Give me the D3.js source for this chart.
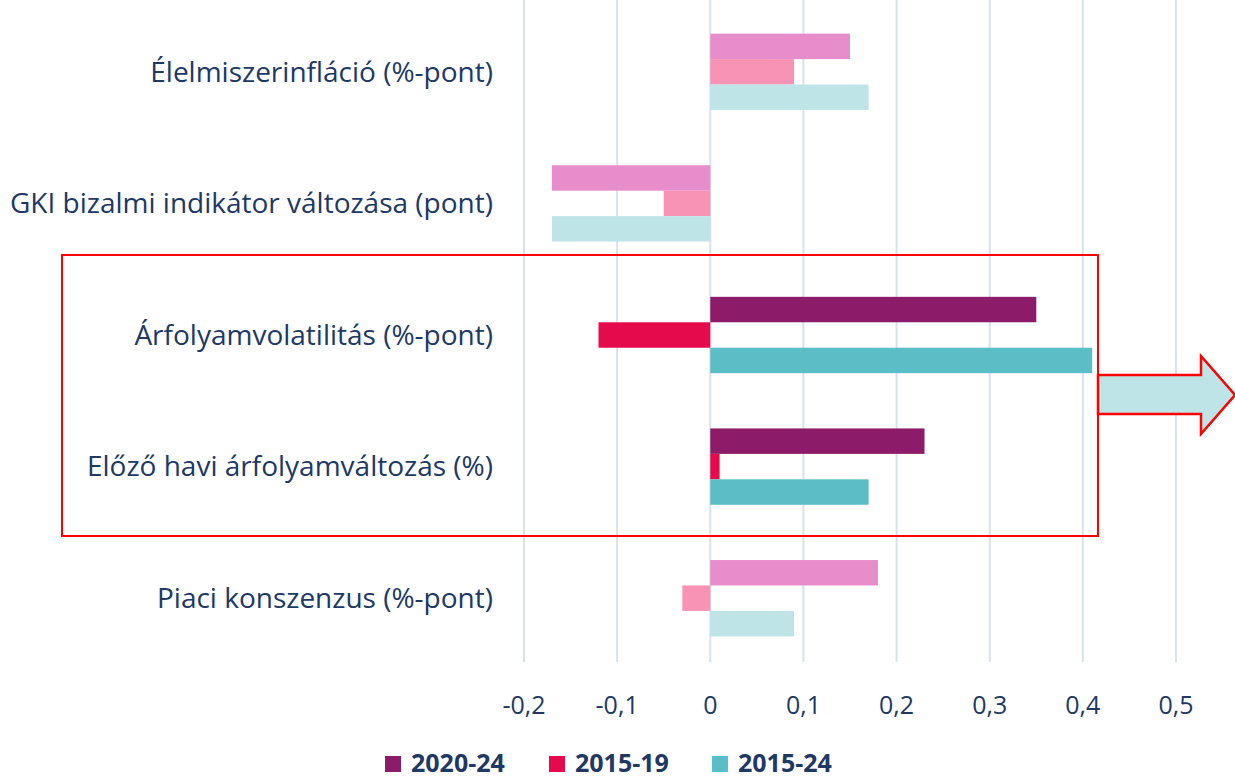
<!DOCTYPE html>
<html>
<head>
<meta charset="utf-8">
<script src="https://cdn.jsdelivr.net/npm/d3@7"></script>
<style>
  body { margin: 0; background: #fff; }
  text { font-family: "Open Sans", sans-serif; fill: #203864; }
</style>
</head>
<body>
<div id="root"></div>
<script>
// adatok
var categories = [
  "Élelmiszerinfláció (%-pont)",
  "GKI bizalmi indikátor változása (pont)",
  "Árfolyamvolatilitás (%-pont)",
  "Előző havi árfolyamváltozás (%)",
  "Piaci konszenzus (%-pont)"
];
var seriesNames = ["2020-24", "2015-19", "2015-24"];
var v2020_24 = [0.15, -0.17, 0.35, 0.23, 0.18];
var v2015_19 = [0.09, -0.05, -0.12, 0.01, -0.03];
var v2015_24 = [0.17, -0.17, 0.41, 0.17, 0.09];
var highlighted = [false, false, true, true, false];
var tickValues = [-0.2, -0.1, 0, 0.1, 0.2, 0.3, 0.4, 0.5];

var colors = ["#8C1B6A", "#E50A4B", "#5BBDC5"];
var fadedColors = ["#E88DCB", "#F993B5", "#BEE4E7"];

var width = 1235, height = 779;

var svg = d3.select("#root")
  .append("svg")
  .attr("width", width)
  .attr("height", height);

var x = d3.scaleLinear()
  .domain([-0.2, 0.5])
  .range([524, 1176]);

var y = d3.scaleBand()
  .domain(categories)
  .range([6, 664])
  .paddingInner(0.42)
  .paddingOuter(0.21);

var sub = d3.scaleBand()
  .domain(seriesNames)
  .range([0, y.bandwidth()]);

var locale = d3.formatLocale({ decimal: ",", thousands: " ", grouping: [3], currency: ["", " Ft"], minus: "-" });
var fmt = function (d) { return d === 0 ? "0" : locale.format(".1f")(d); };

// rácsvonalak
svg.append("g")
  .selectAll("line")
  .data(tickValues)
  .enter()
  .append("line")
  .attr("x1", function (d) { return x(d); })
  .attr("x2", function (d) { return x(d); })
  .attr("y1", 0)
  .attr("y2", 662)
  .style("stroke", "#D9E0F1")
  .style("stroke-width", 2);

var rows = categories.map(function (c, i) {
  return { cat: c, vals: [v2020_24[i], v2015_19[i], v2015_24[i]], hl: highlighted[i] };
});

var groups = svg.append("g")
  .selectAll("g")
  .data(rows)
  .enter()
  .append("g")
  .attr("transform", function (d) { return "translate(0," + y(d.cat) + ")"; });

groups.selectAll("rect")
  .data(function (d) {
    return d.vals.map(function (v, j) { return { v: v, s: seriesNames[j], j: j, hl: d.hl }; });
  })
  .enter()
  .append("rect")
  .attr("x", function (d) { return x(Math.min(0, d.v)); })
  .attr("y", function (d) { return sub(d.s); })
  .attr("width", function (d) { return Math.abs(x(d.v) - x(0)); })
  .attr("height", sub.bandwidth())
  .style("fill", function (d) { return d.hl ? colors[d.j] : fadedColors[d.j]; });

// kategória feliratok
svg.append("g")
  .selectAll("text")
  .data(categories)
  .enter()
  .append("text")
  .attr("x", 493)
  .attr("y", function (d) { return y(d) + y.bandwidth() / 2; })
  .attr("dy", "0.35em")
  .attr("text-anchor", "end")
  .style("font-size", "28px")
  .text(function (d) { return d; });

// tengely feliratok
svg.append("g")
  .selectAll("text")
  .data(tickValues)
  .enter()
  .append("text")
  .attr("x", function (d) { return x(d); })
  .attr("y", 714)
  .attr("text-anchor", "middle")
  .style("font-size", "25px")
  .text(fmt);

// kiemelő keret és nyíl
svg.append("rect")
  .attr("x", 62)
  .attr("y", 255)
  .attr("width", 1036)
  .attr("height", 281)
  .style("fill", "none")
  .style("stroke", "#FF0000")
  .style("stroke-width", 2);

var arrowPts = [[1098, 375], [1201, 375], [1201, 356], [1235, 395], [1201, 434], [1201, 414], [1098, 414]];
svg.append("path")
  .attr("d", d3.line()(arrowPts) + "Z")
  .style("fill", "#BEE4E7")
  .style("stroke", "#FF0000")
  .style("stroke-width", 2.5);

// jelmagyarázat
var legendX = [385, 549, 712];
var legend = svg.append("g")
  .selectAll("g")
  .data(seriesNames)
  .enter()
  .append("g")
  .attr("transform", function (d, i) { return "translate(" + legendX[i] + ",756)"; });

legend.append("rect")
  .attr("width", 16)
  .attr("height", 16)
  .style("fill", function (d, i) { return colors[i]; });

legend.append("text")
  .attr("x", 26)
  .attr("y", 16)
  .style("font-size", "25px")
  .style("font-weight", "bold")
  .text(function (d) { return d; });
</script>
</body>
</html>
